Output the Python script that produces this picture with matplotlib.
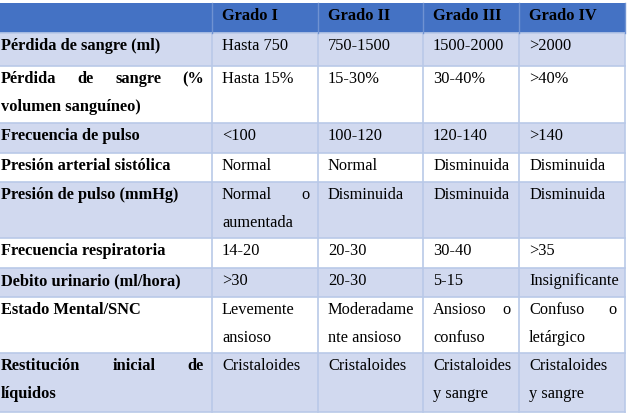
import matplotlib
matplotlib.use("Agg")
import matplotlib.pyplot as plt
from matplotlib.patches import Rectangle

# table content
HEADERS = ["", "Grado I", "Grado II", "Grado III", "Grado IV"]
ROW_LABELS = [
    "Pérdida de sangre (ml)",
    "Pérdida de sangre (%\nvolumen sanguíneo)",
    "Frecuencia de pulso",
    "Presión arterial sistólica",
    "Presión de pulso (mmHg)",
    "Frecuencia respiratoria",
    "Debito urinario (ml/hora)",
    "Estado Mental/SNC",
    "Restitución inicial de\nlíquidos",
]
GRADO_I = ["Hasta 750", "Hasta 15%", "<100", "Normal", "Normal o\naumentada",
           "14-20", ">30", "Levemente\nansioso", "Cristaloides"]
GRADO_II = ["750-1500", "15-30%", "100-120", "Normal", "Disminuida",
            "20-30", "20-30", "Moderadame\nnte ansioso", "Cristaloides"]
GRADO_III = ["1500-2000", "30-40%", "120-140", "Disminuida", "Disminuida",
             "30-40", "5-15", "Ansioso o\nconfuso", "Cristaloides\ny sangre"]
GRADO_IV = [">2000", ">40%", ">140", "Disminuida", "Disminuida",
            ">35", "Insignificante", "Confuso o\nletárgico", "Cristaloides\ny sangre"]

# layout in pixels
COL_EDGES = [0, 212, 318, 423, 519, 625]
ROW_EDGES = [3, 33, 66, 123, 153, 182, 238, 268, 297, 353, 412]
PAD_LEFT = [1, 10, 10, 10, 10]
PAD_RIGHT = 8
BASELINE = 17
LINE_STEP = 28

HEADER_BLUE = "#4472C4"
BAND = "#D1D9EF"
GRID = "#B9C9E8"
FONT = "Liberation Serif"
FS = 11.8

fig = plt.figure(figsize=(6.28, 4.16), dpi=100)
ax = fig.add_axes([0, 0, 1, 1])
ax.set_xlim(0, 628)
ax.set_ylim(416, 0)
ax.axis("off")
renderer = fig.canvas.get_renderer()

columns = [ROW_LABELS, GRADO_I, GRADO_II, GRADO_III, GRADO_IV]
n_rows = len(ROW_LABELS)


def put_line(line, x0, x1, y, bold, justify):
    weight = "bold" if bold else "normal"
    words = line.split(" ")
    if not justify or len(words) < 2:
        ax.text(x0, y, line, fontsize=FS, family=FONT, weight=weight,
                va="baseline", ha="left", color="black")
        return
    texts = [ax.text(0, y, w, fontsize=FS, family=FONT, weight=weight,
                     va="baseline", ha="left", color="black") for w in words]
    widths = [t.get_window_extent(renderer).width for t in texts]
    gap = (x1 - x0 - sum(widths)) / (len(words) - 1)
    x = x0
    for t, w in zip(texts, widths):
        t.set_x(x)
        x += w + gap


def put_cell(text, ci, ri, bold):
    top = ROW_EDGES[ri]
    x0 = COL_EDGES[ci] + PAD_LEFT[ci]
    x1 = COL_EDGES[ci + 1] - PAD_RIGHT
    lines = text.split("\n")
    for k, line in enumerate(lines):
        put_line(line, x0, x1, top + BASELINE + k * LINE_STEP, bold,
                 justify=(k < len(lines) - 1))


# backgrounds
for ri in range(n_rows + 1):
    if ri == 0:
        fc = HEADER_BLUE
    elif ri % 2 == 1:
        fc = BAND
    else:
        fc = "white"
    ax.add_patch(Rectangle((COL_EDGES[0], ROW_EDGES[ri]),
                           COL_EDGES[-1] - COL_EDGES[0],
                           ROW_EDGES[ri + 1] - ROW_EDGES[ri],
                           facecolor=fc, edgecolor="none", zorder=0))

# grid lines
for y in ROW_EDGES[1:]:
    ax.plot([COL_EDGES[0], COL_EDGES[-1]], [y, y], color=GRID, lw=1.2, zorder=1)
for x in COL_EDGES[1:]:
    ax.plot([x, x], [ROW_EDGES[1], ROW_EDGES[-1]], color=GRID, lw=1.2, zorder=1)
    ax.plot([x, x], [ROW_EDGES[0], ROW_EDGES[1]], color="#6F92D2", lw=1.0, zorder=1)

# header
for ci, h in enumerate(HEADERS):
    if h:
        put_cell(h, ci, 0, bold=True)

# body
for ci, col in enumerate(columns):
    for ri, val in enumerate(col):
        put_cell(val, ci, ri + 1, bold=(ci == 0))

fig.savefig("out.png", dpi=100)
